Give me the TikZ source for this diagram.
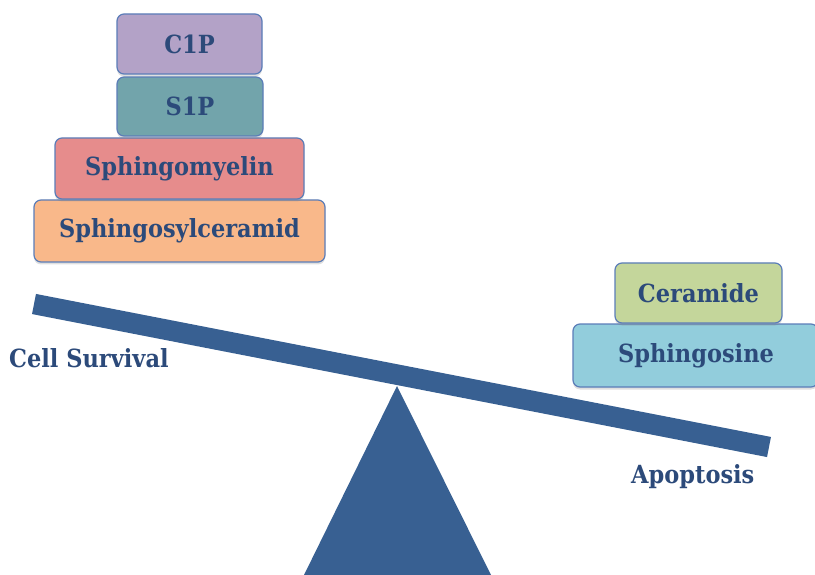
\documentclass[tikz,border=0pt]{standalone}
\usepackage{fontspec}
\setmainfont{DejaVu Serif}[FakeStretch=0.9]
\usetikzlibrary{shadows}
\definecolor{txtblue}{HTML}{2C4A7A}
\definecolor{edgeblue}{HTML}{5B7DB8}
\definecolor{steel}{HTML}{386092}
\definecolor{cOne}{HTML}{B3A2C7}
\definecolor{sOne}{HTML}{72A4AB}
\definecolor{smy}{HTML}{E68C8C}
\definecolor{scer}{HTML}{F9B88A}
\definecolor{cer}{HTML}{C4D69B}
\definecolor{sph}{HTML}{92CDDC}
\tikzset{
  lipid/.style={draw=edgeblue, line width=1.2pt, rounded corners=7pt,
    drop shadow={opacity=0.25, shadow xshift=0pt, shadow yshift=-2.5pt}},
  lipidtext/.style={text=txtblue, font=\fontsize{25}{27}\selectfont\bfseries},
  label/.style={text=txtblue, font=\fontsize{25}{27}\selectfont\bfseries, inner sep=0pt},
}
\begin{document}
\begin{tikzpicture}[x=1pt,y=-1pt]
\useasboundingbox (0,0) rectangle (815,575);
% beam and fulcrum
\coordinate (bl) at (34,304);
\coordinate (br) at (769,447);
\draw[steel, line width=20.5pt] (bl) -- (br);
\coordinate (apex) at (397,386);
\coordinate (baseL) at (304,575);
\coordinate (baseR) at (491,575);
\fill[steel] (apex) -- (baseR) -- (baseL) -- cycle;
% left stack
\filldraw[lipid, fill=scer] (34,200) rectangle (325,262);
\filldraw[lipid, fill=smy] (55,138) rectangle (304,199);
\filldraw[lipid, fill=sOne] (117,77) rectangle (263,136);
\filldraw[lipid, fill=cOne] (117,14) rectangle (262,74);
\node[lipidtext] (scerT) at (179.5,231) {Sphingosylceramid};
\node[lipidtext] (smyT) at (179.5,168.5) {Sphingomyelin};
\node[lipidtext] (sOneT) at (190,106.5) {S1P};
\node[lipidtext] (cOneT) at (189.5,44) {C1P};
% right stack
\filldraw[lipid, fill=sph] (573,324) rectangle (818,387);
\filldraw[lipid, fill=cer] (615,263) rectangle (782,323);
\node[lipidtext] (sphT) at (696,355.5) {Sphingosine};
\node[lipidtext] (cerT) at (698.5,293) {Ceramide};
% labels
\node[label, anchor=west] (surv) at (9,358) {Cell Survival};
\node[label, anchor=west] (apo) at (631,477) {Apoptosis};
\end{tikzpicture}
\end{document}
